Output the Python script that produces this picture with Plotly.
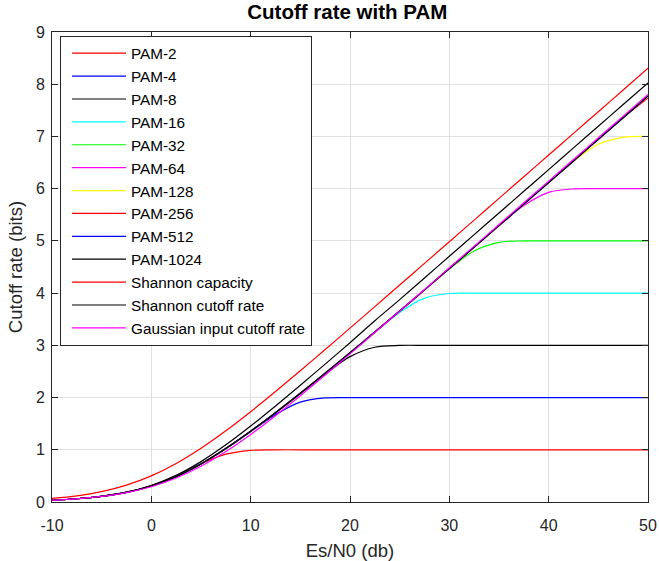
import plotly.graph_objects as go

# Es/N0 in dB
esn0_db = [-10, -7.5, -5, -2.5, 0, 2.5, 5, 7.5, 10, 12.5, 15, 17.5, 20, 22.5, 25,
           27.5, 30, 32.5, 35, 37.5, 40, 42.5, 45, 47.5, 50]

pam2 = [0.0356, 0.0627, 0.1096, 0.1886, 0.3161, 0.5033, 0.7301, 0.9158, 0.9903, 0.9998, 1.0,
        1.0, 1.0, 1.0, 1.0, 1.0, 1.0, 1.0, 1.0, 1.0, 1.0, 1.0, 1.0, 1.0, 1.0]
pam4 = [0.0355, 0.0623, 0.1083, 0.1851, 0.3081, 0.4903, 0.7342, 1.0266, 1.3490, 1.6733, 1.9113,
        1.9922, 1.9999, 2.0, 2.0, 2.0, 2.0, 2.0, 2.0, 2.0, 2.0, 2.0, 2.0, 2.0, 2.0]
pam8 = [0.0355, 0.0622, 0.1080, 0.1846, 0.3066, 0.4872, 0.7306, 1.0249, 1.3543, 1.7068, 2.0744,
        2.4483, 2.7834, 2.9639, 2.9986, 3.0, 3.0, 3.0, 3.0, 3.0, 3.0, 3.0, 3.0, 3.0, 3.0]
pam16 = [0.0355, 0.0622, 0.1080, 0.1845, 0.3062, 0.4866, 0.7293, 1.0241, 1.3549, 1.7095, 2.0800,
         2.4622, 2.8521, 3.2468, 3.6294, 3.9043, 3.9925, 3.9999, 4.0, 4.0, 4.0, 4.0, 4.0, 4.0, 4.0]
pam32 = [0.0355, 0.0622, 0.1080, 0.1845, 0.3062, 0.4866, 0.7293, 1.0241, 1.3549, 1.7098, 2.0814,
         2.4649, 2.8557, 3.2530, 3.6546, 4.0590, 4.4615, 4.8073, 4.9732, 4.9993, 5.0, 5.0, 5.0, 5.0, 5.0]
pam64 = [0.0355, 0.0622, 0.1080, 0.1845, 0.3062, 0.4866, 0.7293, 1.0241, 1.3549, 1.7098, 2.0814,
         2.4649, 2.8567, 3.2546, 3.6569, 4.0619, 4.4696, 4.8790, 5.2889, 5.6764, 5.9289, 5.9958, 6.0, 6.0, 6.0]
pam128 = [0.0355, 0.0622, 0.1080, 0.1845, 0.3062, 0.4866, 0.7293, 1.0241, 1.3549, 1.7098, 2.0814,
          2.4649, 2.8567, 3.2546, 3.6570, 4.0627, 4.4709, 4.8805, 5.2914, 5.7035, 6.1161, 6.5224, 6.8498, 6.9835, 6.9997]
pam256 = [0.0355, 0.0622, 0.1080, 0.1845, 0.3062, 0.4866, 0.7293, 1.0241, 1.3549, 1.7098, 2.0814,
          2.4649, 2.8567, 3.2546, 3.6570, 4.0627, 4.4709, 4.8806, 5.2918, 5.7042, 6.1172, 6.5305, 6.9444, 7.3571, 7.7343]
pam512 = [0.0355, 0.0622, 0.1080, 0.1845, 0.3062, 0.4866, 0.7293, 1.0241, 1.3549, 1.7098, 2.0814,
          2.4649, 2.8567, 3.2546, 3.6570, 4.0627, 4.4709, 4.8806, 5.2918, 5.7042, 6.1172, 6.5307, 6.9447, 7.3589, 7.7735]
pam1024 = [0.0355, 0.0622, 0.1080, 0.1845, 0.3062, 0.4866, 0.7293, 1.0241, 1.3549, 1.7098, 2.0814,
           2.4649, 2.8567, 3.2546, 3.6570, 4.0627, 4.4709, 4.8806, 5.2918, 5.7042, 6.1172, 6.5307, 6.9447, 7.3590, 7.7736]
shannon_capacity = [0.0688, 0.1181, 0.1982, 0.3219, 0.5, 0.7371, 1.0287, 1.3638, 1.7297, 2.1157, 2.5139,
                    2.9194, 3.3291, 3.7412, 4.1547, 4.5689, 4.9836, 5.3985, 5.8136, 6.2286, 6.6439, 7.0591,
                    7.4743, 7.8896, 8.3048]
shannon_cutoff = [0.0356, 0.0627, 0.1096, 0.1887, 0.3169, 0.5102, 0.7731, 1.0941, 1.4542, 1.8381, 2.2356,
                  2.6409, 3.0505, 3.4705, 3.8760, 4.2903, 4.7050, 5.1207, 5.5349, 5.9501, 6.3653, 6.7805,
                  7.1957, 7.6109, 8.0262]
gaussian_cutoff = [0.0352, 0.0614, 0.1059, 0.1787, 0.2925, 0.4589, 0.6840, 0.9652, 1.2925, 1.6531, 2.0357,
                   2.4319, 2.8362, 3.2453, 3.6570, 4.0702, 4.4844, 4.8989, 5.3139, 5.7289, 6.1440, 6.5591,
                   6.9743, 7.3896, 7.8048]

series_names = ["PAM-2", "PAM-4", "PAM-8", "PAM-16", "PAM-32", "PAM-64", "PAM-128", "PAM-256",
                "PAM-512", "PAM-1024", "Shannon capacity", "Shannon cutoff rate",
                "Gaussian input cutoff rate"]
series_values = [pam2, pam4, pam8, pam16, pam32, pam64, pam128, pam256, pam512, pam1024,
                 shannon_capacity, shannon_cutoff, gaussian_cutoff]
series_colors = ["#ff0000", "#0000ff", "#000000", "#00ffff", "#00ff00", "#ff00ff", "#ffff00",
                 "#ff0000", "#0000ff", "#000000", "#ff0000", "#000000", "#ff00ff"]

x_ticks = [-10, 0, 10, 20, 30, 40, 50]
y_ticks = [0, 1, 2, 3, 4, 5, 6, 7, 8, 9]

FONT = "Liberation Sans, Arial, Helvetica, sans-serif"
AX = "#262626"

fig = go.Figure()
for i, (name, vals, col) in enumerate(zip(series_names, series_values, series_colors)):
    fig.add_trace(go.Scatter(
        x=esn0_db, y=vals, mode="lines", name=name,
        line=dict(color=col, width=1.2, shape="spline", smoothing=0.9),
    ))

fig.update_layout(
    width=659, height=561,
    paper_bgcolor="white", plot_bgcolor="white",
    margin=dict(l=52, r=11, t=32, b=58.5, autoexpand=False),
    font=dict(family=FONT, color=AX, size=16),
    title=dict(text="<b>Cutoff rate with PAM</b>", x=0.527, xanchor="center",
               y=0.979, yanchor="middle", font=dict(size=20.5, color="#000000", family=FONT)),
    showlegend=True,
    legend=dict(
        x=0.0134, y=0.992, xanchor="left", yanchor="top",
        bgcolor="white", bordercolor="#262626", borderwidth=1,
        font=dict(size=15.3, color="#000000", family=FONT),
        itemwidth=54, indentation=6, entrywidth=186, entrywidthmode="pixels",
    ),
)
fig.update_xaxes(
    range=[-10, 50], tickvals=x_ticks, ticktext=[str(v) for v in x_ticks],
    showgrid=True, gridcolor="#e0e0e0", gridwidth=1, zeroline=False,
    showline=True, linecolor=AX, linewidth=1, mirror="ticks",
    ticks="inside", ticklen=6, tickcolor=AX, tickfont=dict(size=16, color=AX),
    ticklabelstandoff=9, automargin=False,
    title=dict(text="Es/N0 (db)", font=dict(size=18.5, color=AX), standoff=14),
)
fig.update_yaxes(
    range=[0, 9], tickvals=y_ticks, ticktext=[str(v) for v in y_ticks],
    showgrid=True, gridcolor="#e0e0e0", gridwidth=1, zeroline=False,
    showline=True, linecolor=AX, linewidth=1, mirror="ticks",
    ticks="inside", ticklen=6, tickcolor=AX, tickfont=dict(size=16, color=AX),
    ticklabelstandoff=3, automargin=False,
    title=dict(text="Cutoff rate (bits)", font=dict(size=18.5, color=AX), standoff=8),
)

fig.write_html("out.html", config={"displayModeBar": False},
               post_script="document.body.style.margin='0';")
